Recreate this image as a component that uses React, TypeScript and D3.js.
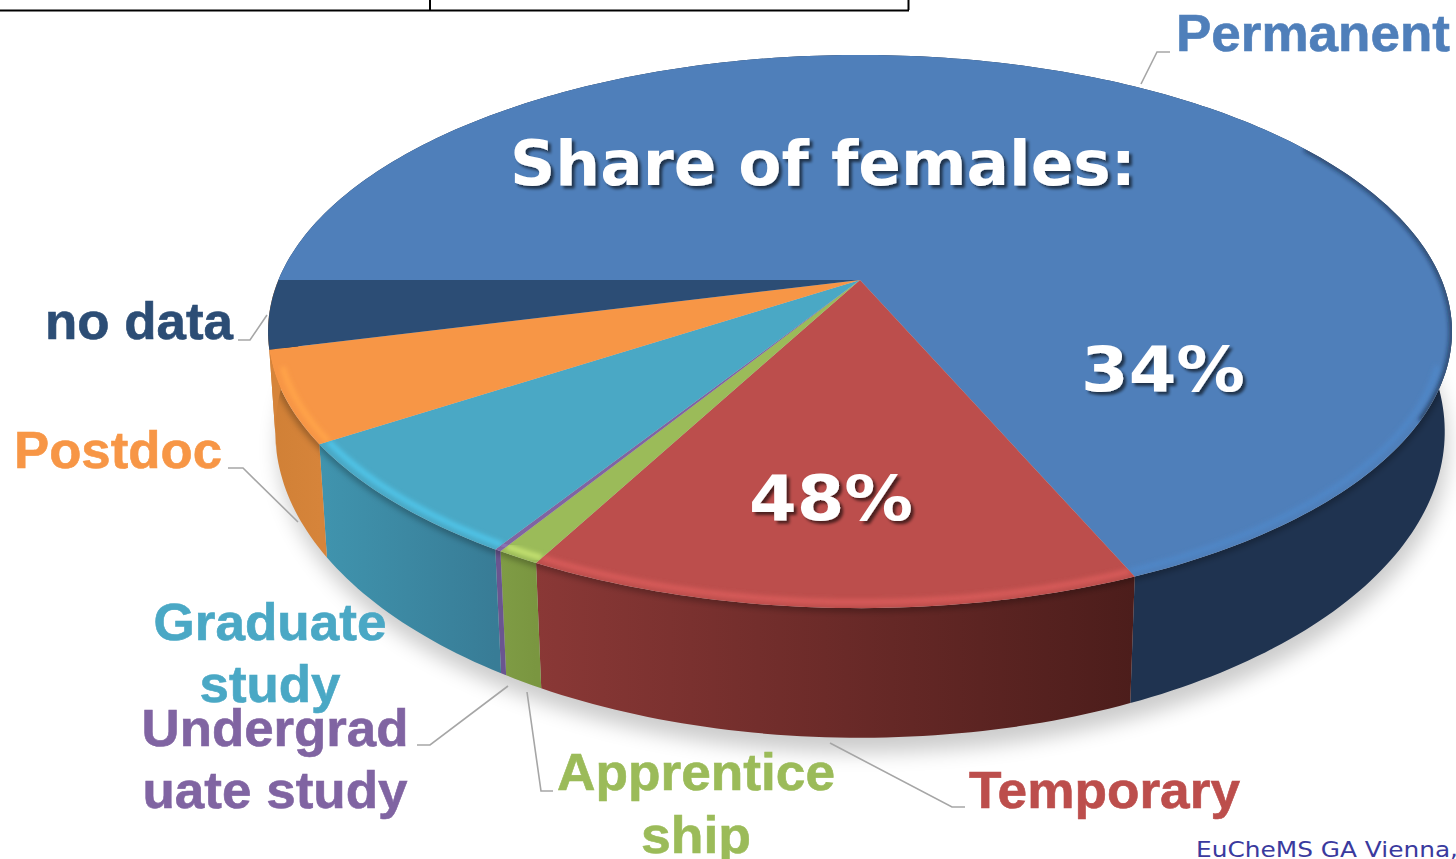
import React from "react";
import * as d3 from "d3";

const categories = ["Permanent", "Temporary", "Apprenticeship", "Undergraduate study", "Graduate study", "Postdoc", "no data"];
const shares = [68.6, 14.1, 1.0, 0.15, 6.85, 5.3, 4.0];
const femaleShareLabels = [["34%", 0], ["48%", 1]] as const;
const title = "Share of females:";
const footer = "EuCheMS GA Vienna,";

const topColors = ["#4f7fba", "#bc4e4c", "#9bbb59", "#8064a2", "#4aa8c5", "#f79646", "#2c4d75"];
const rimColors = ["#4f86c6", "#d65a58", "#c2e070", "#8f78c0", "#4fc3e6", "#ffa348", "#2c4d75"];
const wallStops = [
  ["#1f3350", "#1f3350"],
  ["#8a3836", "#4c1d1b"],
  ["#7f9c45", "#7a9640"],
  ["#6a5590", "#6a5590"],
  ["#4094ae", "#387c96"],
  ["#d08036", "#d6843a"],
  ["#d6843a", "#d6843a"],
];

const labelLines: { lines: string[]; x: number; y: number[]; anchor: string; w: number[]; color: number }[] = [
  { lines: ["Permanent"], x: 1176, y: [51], anchor: "start", w: [274], color: 0 },
  { lines: ["Temporary"], x: 969, y: [808], anchor: "start", w: [271], color: 1 },
  { lines: ["Apprentice", "ship"], x: 696, y: [790, 853], anchor: "middle", w: [278, 110], color: 2 },
  { lines: ["Undergrad", "uate study"], x: 275, y: [746, 808], anchor: "middle", w: [267, 265], color: 3 },
  { lines: ["Graduate", "study"], x: 270, y: [640, 702], anchor: "middle", w: [233, 141], color: 4 },
  { lines: ["Postdoc"], x: 14, y: [468], anchor: "start", w: [208], color: 5 },
  { lines: ["no data"], x: 45, y: [339], anchor: "start", w: [188], color: 6 },
];

const leaders: [number, number][][] = [
  [[1141, 84], [1157, 52], [1170, 52]],
  [[267, 315], [250, 340], [238, 340]],
  [[298, 522], [243, 468], [228, 468]],
  [[508, 686], [430, 745], [417, 745]],
  [[527, 692], [541, 791], [553, 791]],
  [[830, 743], [952, 807], [965, 807]],
];

const K = -0.1863;
const top = (a: number, r = 1): [number, number] => {
  const X = Math.sin(a) * r, Y = -Math.cos(a) * r;
  const w = 1 + K * Y;
  return [860 + (581.6 * X) / w, 280 + (267 * Y) / w];
};
const K2 = -0.1818;
const bottom = (a: number): [number, number] => {
  const X = Math.sin(a), Y = -Math.cos(a);
  const w = 1 + K2 * Y;
  return [860 + (575 * X) / w, 376 + (296 * Y) / w];
};
const line = d3.line<[number, number]>();
const samples = (a0: number, a1: number) => {
  const n = Math.max(4, Math.ceil(((a1 - a0) * 180) / Math.PI));
  return d3.range(n + 1).map((i) => a0 + ((a1 - a0) * i) / n);
};
const pie = d3.pie<number>().sort(null).startAngle(-Math.PI / 2).endAngle((3 * Math.PI) / 2);
const arcs = pie(shares);
const isFront = (a: number) => -Math.cos(a) > 0.3;

export default function App() {
  const all = samples(-Math.PI / 2, (3 * Math.PI) / 2);
  const front = samples(Math.PI / 2, (3 * Math.PI) / 2);
  const wallOutline = (line([...front.map((a) => top(a)), ...front.slice().reverse().map(bottom)]) ?? "") + "Z";
  return (
    <svg width={1456} height={859} style={{ position: "absolute", left: 0, top: 0, display: "block", background: "#fff" }}>
      <defs>
        <filter id="sh" x="-10%" y="-10%" width="120%" height="130%"><feGaussianBlur stdDeviation="10" /></filter>
        <filter id="b3" x="-10%" y="-10%" width="120%" height="120%"><feGaussianBlur stdDeviation="3" /></filter>
        <filter id="b2" x="-10%" y="-10%" width="120%" height="120%"><feGaussianBlur stdDeviation="2.2" /></filter>
        <filter id="ts" x="-10%" y="-20%" width="120%" height="150%">
          <feDropShadow dx="3" dy="3" stdDeviation="1.8" floodColor="#000" floodOpacity="0.6" />
        </filter>
        <clipPath id="wallclip"><path d={wallOutline} /></clipPath>
        {arcs.map((d, i) => (
          <linearGradient key={i} id={`w${i}`} gradientUnits="userSpaceOnUse"
            x1={top(d.startAngle)[0]} x2={top(d.endAngle)[0]} y1={0} y2={0}>
            <stop offset="0" stopColor={wallStops[i][1]} />
            <stop offset="1" stopColor={wallStops[i][0]} />
          </linearGradient>
        ))}
        {arcs.map((d, i) => (
          <clipPath key={i} id={`c${i}`}>
            <path d={(line([[860, 280], ...samples(d.startAngle, d.endAngle).map((a) => top(a))]) ?? "") + "Z"} />
          </clipPath>
        ))}
      </defs>

      <path d={(line(all.map((a) => { const p = bottom(a); return [p[0] + 3, p[1] + 15]; })) ?? "") + "Z"}
        fill="#000" opacity={0.2} filter="url(#sh)" />

      {arcs.map((d, i) => {
        const s = samples(d.startAngle, d.endAngle);
        return (
          <path key={i} fill={`url(#w${i})`}
            d={(line([...s.map((a) => top(a)), ...s.slice().reverse().map(bottom)]) ?? "") + "Z"} />
        );
      })}
      <g clipPath="url(#wallclip)">
        <path d={line(front.map((a) => top(a))) ?? ""} fill="none"
          stroke="#000" strokeOpacity={0.3} strokeWidth={7} filter="url(#b3)" />
      </g>

      {arcs.map((d, i) => (
        <path key={i} fill={topColors[i]}
          d={(line([[860, 280], ...samples(d.startAngle, d.endAngle).map((a) => top(a))]) ?? "") + "Z"} />
      ))}
      <g clipPath="url(#c0)">
        <path d={line(samples(1.0, Math.PI / 2 + 0.5).map((a) => top(a))) ?? ""} fill="none"
          stroke="#0c1c33" strokeOpacity={0.55} strokeWidth={6} filter="url(#b2)" />
      </g>
      {arcs.map((d, i) => {
        const s = samples(d.startAngle, d.endAngle).filter(isFront);
        if (s.length < 2) return null;
        return (
          <g key={i} clipPath={`url(#c${i})`}>
            <path d={line(s.map((a) => top(a, 0.985))) ?? ""} fill="none" stroke={rimColors[i]}
              strokeWidth={6} filter="url(#b2)" />
          </g>
        );
      })}

      <g stroke="#000" strokeWidth={2} fill="none">
        <path d="M0,10.5H909" />
        <path d="M430,0V10" />
        <path d="M908.5,0V10" />
      </g>

      {leaders.map((l, i) => (
        <path key={i} d={line(l) ?? ""} fill="none" stroke="#a6a6a6" strokeWidth={1.6} />
      ))}

      <g fontFamily="'Liberation Sans', Arial, sans-serif" fontWeight={700} fontSize={52} strokeWidth={0.6}>
        {labelLines.map((l) =>
          l.lines.map((t, j) => (
            <text key={t} x={l.x} y={l.y[j]} textAnchor={l.anchor} fill={topColors[l.color]} stroke={topColors[l.color]}
              textLength={l.w[j]} lengthAdjust="spacingAndGlyphs">{t}</text>
          ))
        )}
      </g>

      <g fontFamily="'DejaVu Sans', Verdana, sans-serif" fontWeight={700} fill="#fff" filter="url(#ts)">
        <text x={510} y={185} fontSize={62} textLength={626} lengthAdjust="spacingAndGlyphs">{title}</text>
        {femaleShareLabels.map(([t, idx]) => (
          <text key={t} x={idx === 0 ? 1081 : 749} y={idx === 0 ? 391 : 520} fontSize={62}
            textLength={164} lengthAdjust="spacingAndGlyphs">{t}</text>
        ))}
      </g>

      <text x={1196} y={857} fontFamily="'DejaVu Sans', Verdana, sans-serif" fontSize={22} fill="#3a3a9e"
        textLength={262} lengthAdjust="spacingAndGlyphs">{footer}</text>
    </svg>
  );
}
